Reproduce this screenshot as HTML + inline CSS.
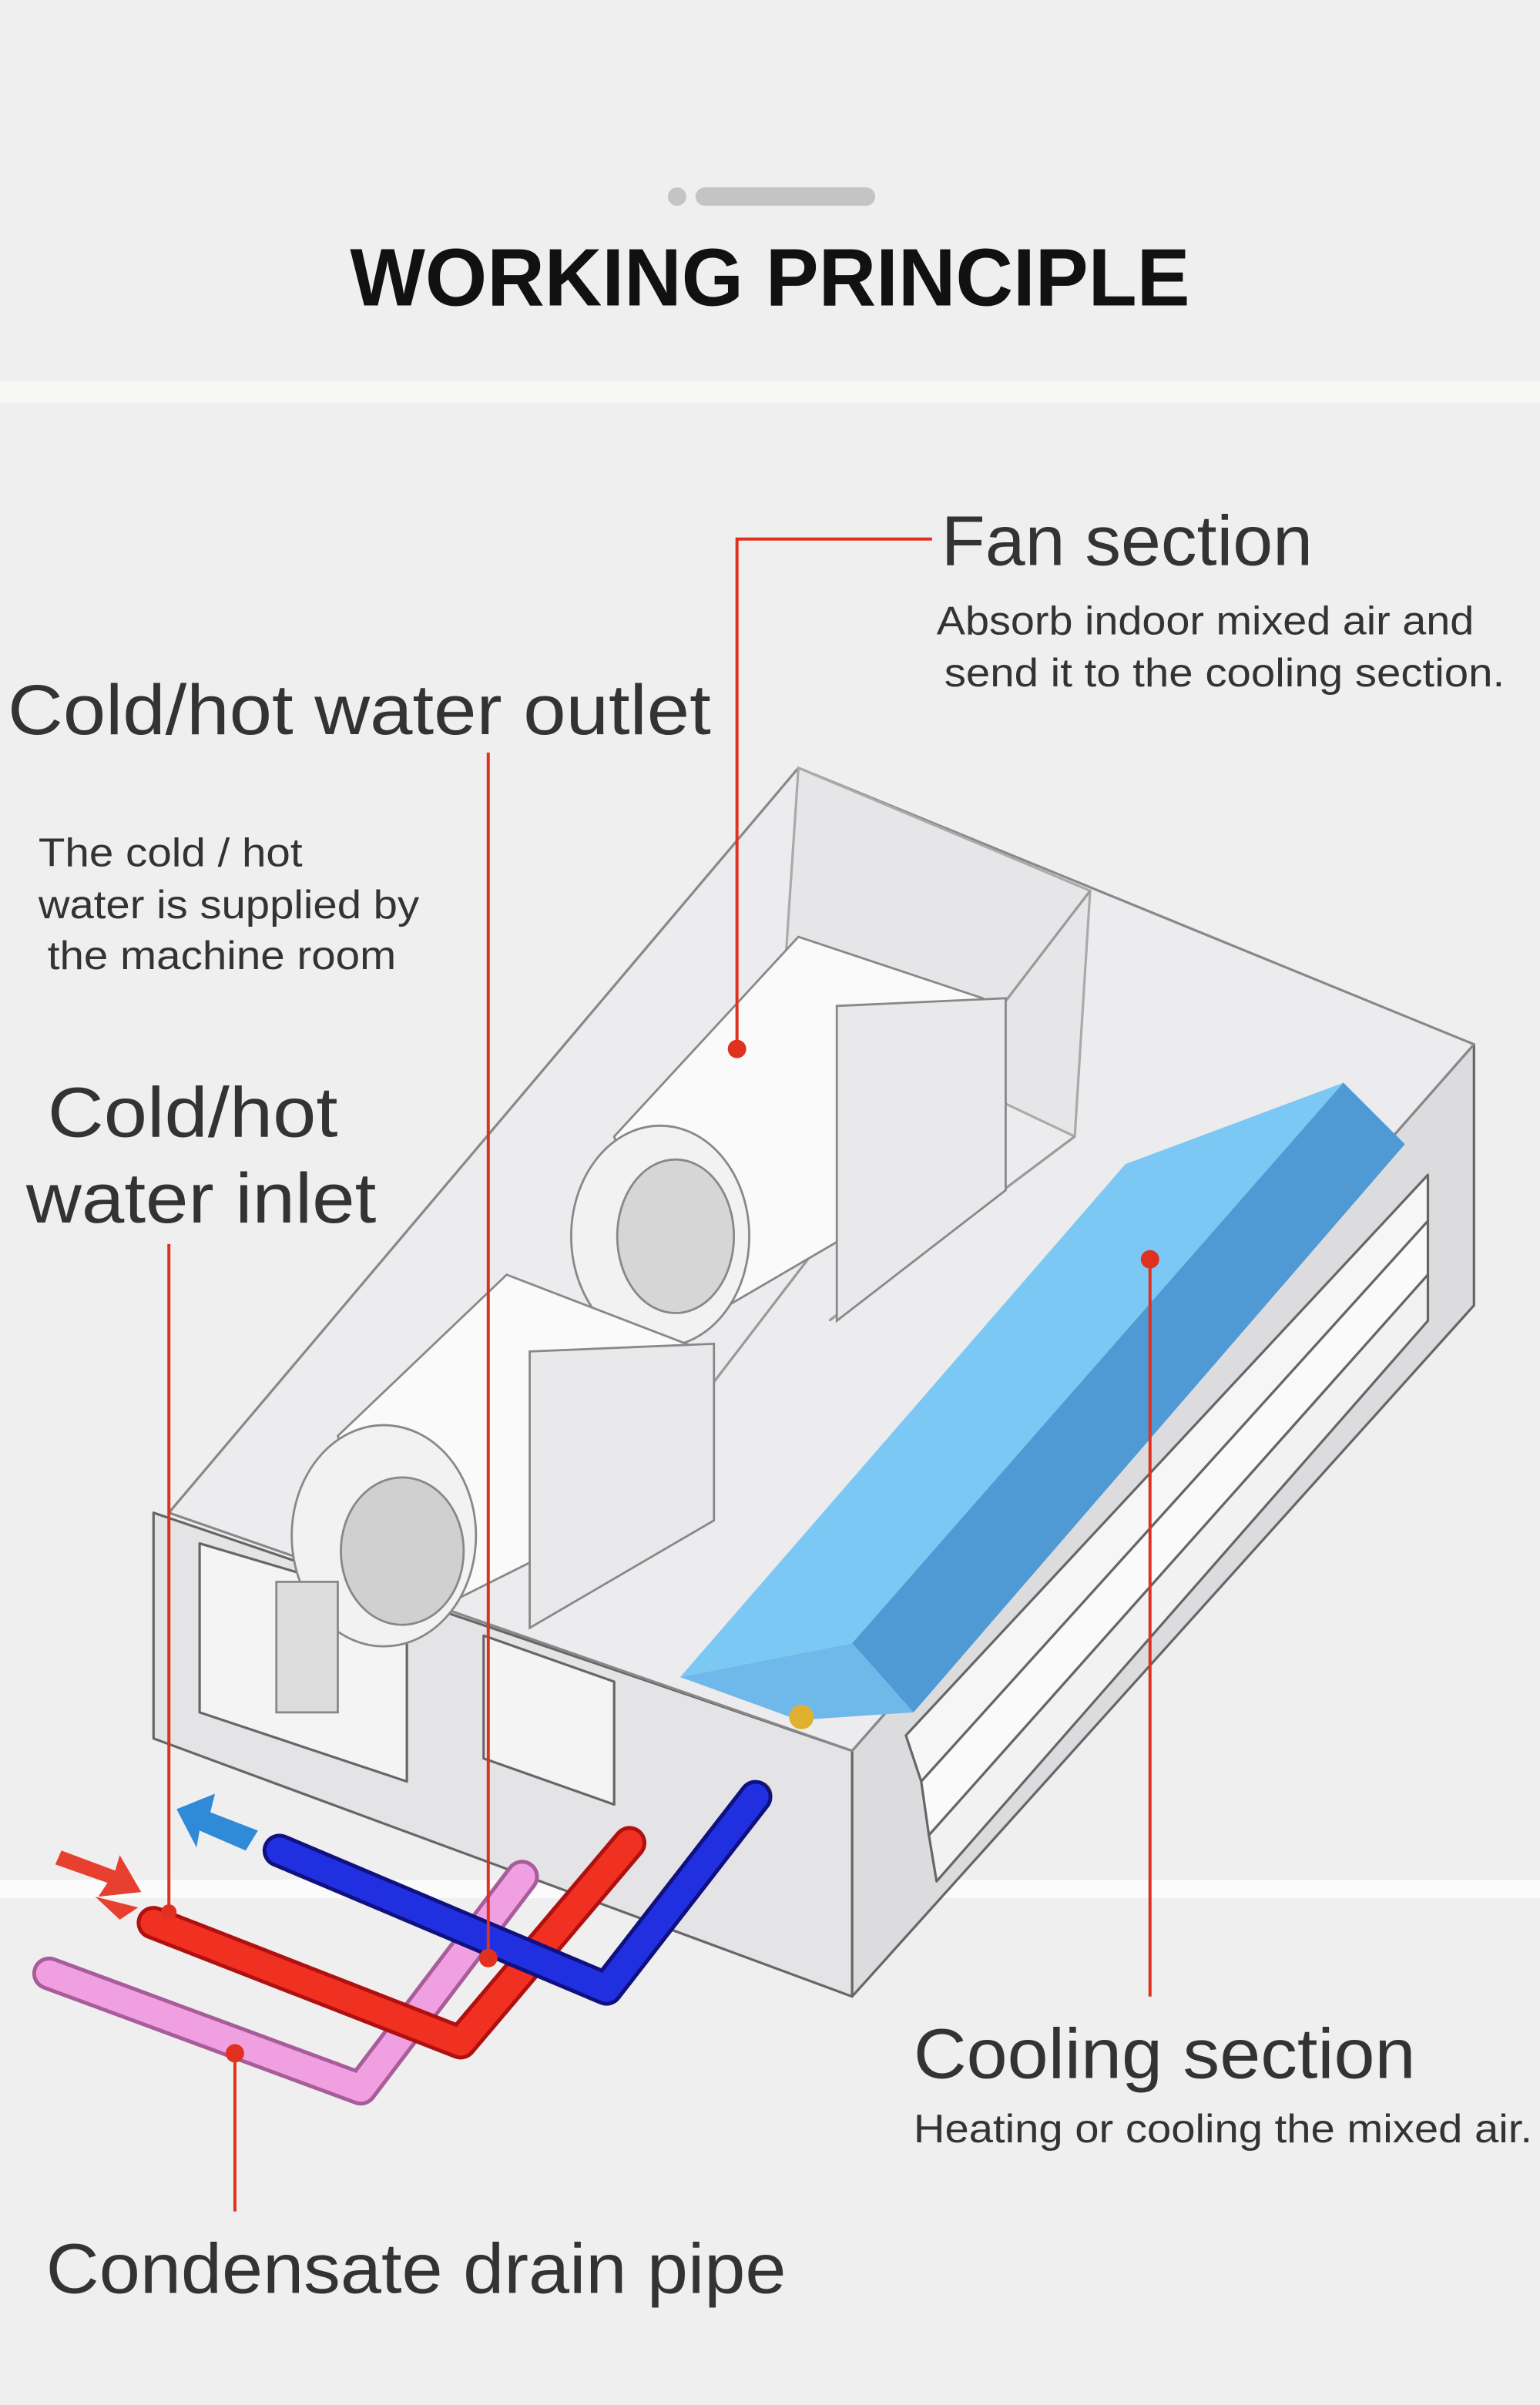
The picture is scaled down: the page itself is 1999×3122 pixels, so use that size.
<!DOCTYPE html>
<html><head><meta charset="utf-8"><style>
html,body{margin:0;padding:0;background:#efefef;}
svg{display:block}
text{font-family:"Liberation Sans","DejaVu Sans",sans-serif;fill:#333}
</style></head><body>
<svg width="1999" height="3122" viewBox="0 0 1003 1566" preserveAspectRatio="none" xmlns="http://www.w3.org/2000/svg">
<rect width="1003" height="1566" fill="#efefef"/>
<rect y="248" width="1003" height="14" fill="#f7f7f5"/>
<rect y="1224" width="1003" height="12" fill="#fbfbfb"/>
<circle cx="441" cy="128" r="6" fill="#c4c4c4"/>
<rect x="453" y="122" width="117" height="12" rx="6" fill="#c4c4c4"/>
<text x="228" y="199" font-size="53" font-weight="bold" style="fill:#111" textLength="547" lengthAdjust="spacingAndGlyphs">WORKING PRINCIPLE</text>

<!-- box body -->
<g stroke="#666" stroke-width="1.6" fill="none" stroke-linejoin="round">
<polygon points="100,985 555,1140 555,1300 100,1132" fill="#e4e4e6"/>
<polygon points="555,1140 960,680 960,850 555,1300" fill="#dcdcdf"/>
<polygon points="520,500 960,680 555,1140 110,985" fill="#ececee" stroke="#888"/>
<polygon points="520,500 710,580 700,740 510,650" fill="#e6e6e8" stroke="#aaa"/>
<line x1="710" y1="580" x2="350" y2="1050" stroke="#999"/>
<line x1="700" y1="740" x2="540" y2="860" stroke="#999"/>
<polygon points="130,1005 265,1045 265,1160 130,1115" fill="#f4f4f4"/>
<polygon points="315,1065 400,1095 400,1175 315,1145" fill="#f4f4f4"/>
<polygon points="590,1130 930,765 930,795 600,1160" fill="#f6f6f6"/>
<polygon points="600,1160 930,795 930,830 605,1195" fill="#fafafa"/>
<polygon points="605,1195 930,830 930,860 610,1225" fill="#f2f2f2"/>
</g>
<g stroke="#888" stroke-width="1.4">
<polygon points="400,740 520,610 640,650 560,800 440,870" fill="#fafafa"/>
<ellipse cx="430" cy="805" rx="58" ry="72" fill="#f2f2f2"/>
<ellipse cx="440" cy="805" rx="38" ry="50" fill="#d6d6d6"/>
<polygon points="220,935 330,830 460,880 360,1010 260,1060" fill="#fafafa"/>
<ellipse cx="250" cy="1000" rx="60" ry="72" fill="#f2f2f2"/>
<ellipse cx="262" cy="1010" rx="40" ry="48" fill="#d0d0d0"/>
<polygon points="545,655 655,650 655,775 545,860" fill="#e9e9ec"/>
<polygon points="345,880 465,875 465,990 345,1060" fill="#e9e9ec"/>
<rect x="180" y="1030" width="40" height="85" fill="#ddd"/>
</g>
<polygon points="443,1092 733,758 875,705 555,1070" fill="#7cc8f4"/>
<polygon points="875,705 915,745 595,1115 555,1070" fill="#4f99d4"/>
<polygon points="443,1092 555,1070 595,1115 520,1120" fill="#6fb8ea"/>
<circle cx="522" cy="1118" r="8" fill="#e0b030"/>
<circle cx="495" cy="1168" r="8" fill="#e0b030"/>
<circle cx="410" cy="1198" r="8" fill="#e0b030"/>
<g fill="none" stroke-linecap="round" stroke-linejoin="round">
<polyline points="340,1222 235,1360 32,1285" stroke="#a85c9a" stroke-width="22"/>
<polyline points="340,1222 235,1360 32,1285" stroke="#f0a0e0" stroke-width="17"/>
<polyline points="410,1200 300,1330 100,1252" stroke="#b01010" stroke-width="22"/>
<polyline points="410,1200 300,1330 100,1252" stroke="#f03020" stroke-width="17"/>
<polyline points="492,1170 395,1295 182,1205" stroke="#101080" stroke-width="22"/>
<polyline points="492,1170 395,1295 182,1205" stroke="#2030e0" stroke-width="17"/>
</g>
<polygon points="115,1178 140,1168 137,1180 168,1192 160,1205 130,1192 128,1203" fill="#2f8ad8"/>
<polygon points="40,1205 75,1218 78,1208 92,1232 64,1235 70,1226 36,1214" fill="#e84030"/>
<polygon points="62,1235 90,1242 78,1250" fill="#e84030"/>

<g stroke="#e0301e" stroke-width="2" fill="none">
<polyline points="607,351 480,351 480,683"/>
<line x1="318" y1="490" x2="318" y2="1275"/>
<line x1="110" y1="810" x2="110" y2="1245"/>
<line x1="749" y1="820" x2="749" y2="1300"/>
<line x1="153" y1="1337" x2="153" y2="1440"/>
</g>
<g fill="#e0301e">
<circle cx="480" cy="683" r="6"/><circle cx="318" cy="1275" r="6"/>
<circle cx="749" cy="820" r="6"/><circle cx="153" cy="1337" r="6"/>
<circle cx="110" cy="1245" r="5"/>
</g>

<text x="613" y="368" font-size="46" textLength="242" lengthAdjust="spacingAndGlyphs">Fan section</text>
<text x="610" y="413" font-size="26" textLength="350" lengthAdjust="spacingAndGlyphs">Absorb indoor mixed air and</text>
<text x="615" y="447" font-size="26" textLength="365" lengthAdjust="spacingAndGlyphs">send it to the cooling section.</text>
<text x="5" y="478" font-size="46" textLength="458" lengthAdjust="spacingAndGlyphs">Cold/hot water outlet</text>
<text x="25" y="564" font-size="26" textLength="172" lengthAdjust="spacingAndGlyphs">The cold / hot</text>
<text x="25" y="598" font-size="26" textLength="248" lengthAdjust="spacingAndGlyphs">water is supplied by</text>
<text x="31" y="631" font-size="26" textLength="227" lengthAdjust="spacingAndGlyphs">the machine room</text>
<text x="31" y="740" font-size="46" textLength="189" lengthAdjust="spacingAndGlyphs">Cold/hot</text>
<text x="17" y="796" font-size="46" textLength="228" lengthAdjust="spacingAndGlyphs">water inlet</text>
<text x="595" y="1353" font-size="46" textLength="327" lengthAdjust="spacingAndGlyphs">Cooling section</text>
<text x="595" y="1395" font-size="26" textLength="403" lengthAdjust="spacingAndGlyphs">Heating or cooling the mixed air.</text>
<text x="30" y="1493" font-size="46" textLength="482" lengthAdjust="spacingAndGlyphs">Condensate drain pipe</text>
</svg>
</body></html>
